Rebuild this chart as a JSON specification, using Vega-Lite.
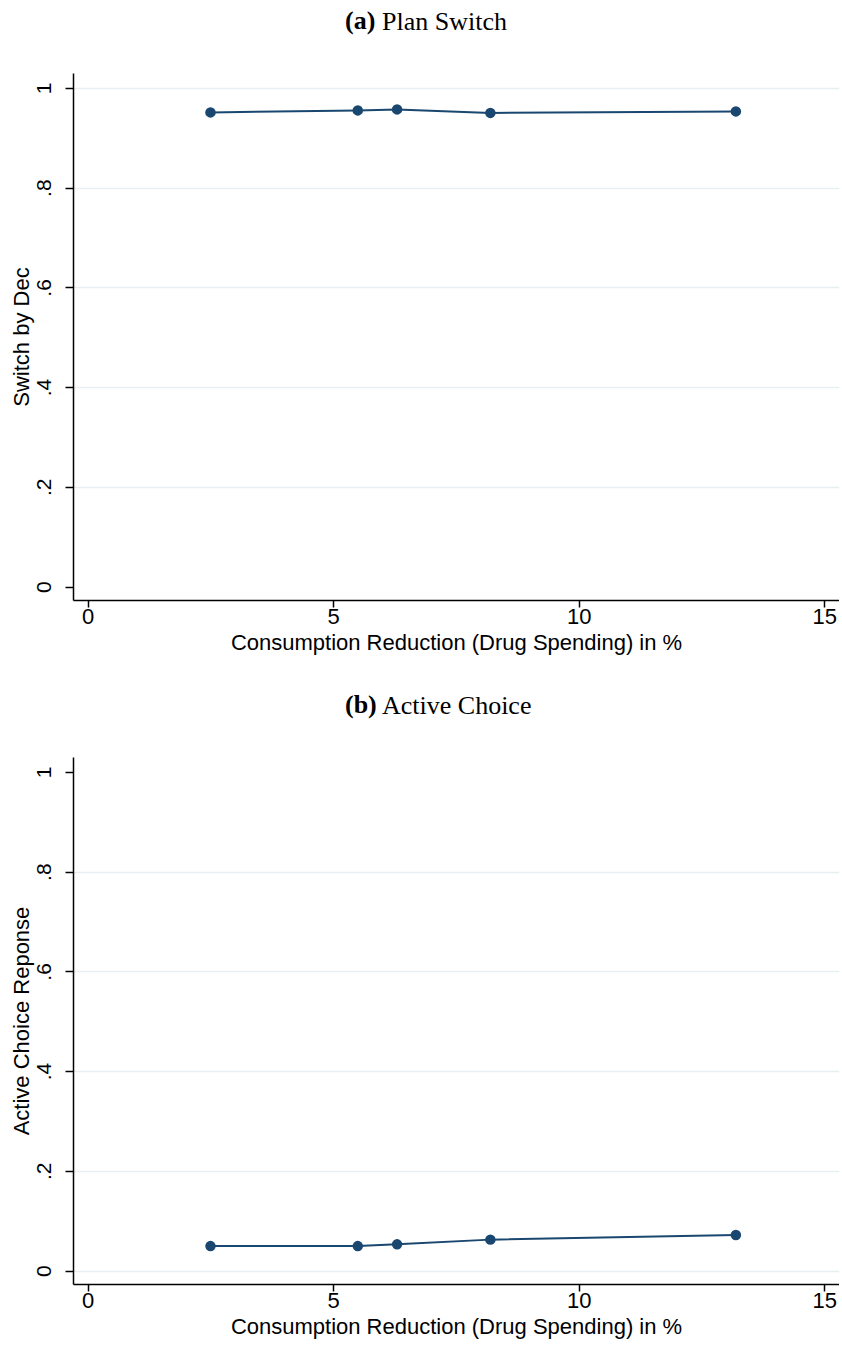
{
  "$schema": "https://vega.github.io/schema/vega-lite/v6.json",
  "padding": {"left": 10, "top": 8, "right": 0, "bottom": 8},
  "spacing": 39,
  "datasets": {
    "switch": [
      {"reduction": 2.5, "share": 0.951},
      {"reduction": 5.5, "share": 0.955},
      {"reduction": 6.3, "share": 0.957},
      {"reduction": 8.2, "share": 0.95},
      {"reduction": 13.2, "share": 0.953}
    ],
    "active": [
      {"reduction": 2.5, "share": 0.049},
      {"reduction": 5.5, "share": 0.049},
      {"reduction": 6.3, "share": 0.0525},
      {"reduction": 8.2, "share": 0.062},
      {"reduction": 13.2, "share": 0.0714}
    ]
  },
  "config": {
    "view": {"stroke": null},
    "axis": {
      "domainColor": "black",
      "domainWidth": 1.5,
      "tickColor": "black",
      "tickWidth": 1.5,
      "labelColor": "black",
      "titleColor": "black",
      "titleFontWeight": "normal",
      "gridColor": "#e6eff1",
      "gridWidth": 1.5,
      "labelFlush": false,
      "labelOverlap": false,
      "labelFont": "Liberation Sans",
      "titleFont": "Liberation Sans"
    },
    "axisX": {
      "grid": false,
      "tickSize": 7,
      "labelFontSize": 22,
      "labelPadding": -1,
      "titleFontSize": 22,
      "titlePadding": 5
    },
    "axisY": {
      "grid": true,
      "tickSize": 8,
      "labelAngle": 270,
      "labelAlign": "center",
      "labelBaseline": "alphabetic",
      "labelPadding": 15,
      "labelFontSize": 21,
      "titleFontSize": 22,
      "titlePadding": 0
    },
    "title": {
      "font": "Liberation Serif",
      "fontSize": 26,
      "color": "black",
      "baseline": "alphabetic",
      "anchor": "start",
      "frame": "group",
      "align": "left"
    }
  },
  "vconcat": [
    {
      "title": {"text": "Plan Switch", "fontWeight": "normal", "dx": 309, "offset": -27},
      "vconcat": [
        {
          "width": 766,
          "height": 527,
          "title": {"text": "(a)", "fontWeight": "bold", "dx": 272, "offset": 39},
          "data": {"name": "switch"},
          "encoding": {
            "x": {
              "field": "reduction",
              "type": "quantitative",
              "scale": {"domain": [-0.3, 15.3], "nice": false, "zero": false},
              "axis": {"values": [0, 5, 10, 15], "title": "Consumption Reduction (Drug Spending) in %"}
            },
            "y": {
              "field": "share",
              "type": "quantitative",
              "scale": {"domain": [-0.027, 1.03], "nice": false, "zero": false},
              "axis": {
                "values": [0, 0.2, 0.4, 0.6, 0.8, 1],
                "title": "Switch by Dec",
                "labelExpr": "datum.value == 0 ? '0' : datum.value == 1 ? '1' : replace(format(datum.value, '.1f'), '0.', '.')",
                "gridOpacity": {"condition": {"test": "datum.value == 0", "value": 0}, "value": 1}
              }
            }
          },
          "layer": [
            {"mark": {"type": "line", "color": "#1a476f", "strokeWidth": 2}},
            {"mark": {"type": "point", "filled": true, "color": "#1a476f", "opacity": 1, "size": 110}}
          ]
        }
      ]
    },
    {
      "title": {"text": "Active Choice", "fontWeight": "normal", "dx": 309, "offset": -27},
      "vconcat": [
        {
          "width": 766,
          "height": 527,
          "title": {"text": "(b)", "fontWeight": "bold", "dx": 272, "offset": 39},
          "data": {"name": "active"},
          "encoding": {
            "x": {
              "field": "reduction",
              "type": "quantitative",
              "scale": {"domain": [-0.3, 15.3], "nice": false, "zero": false},
              "axis": {"values": [0, 5, 10, 15], "title": "Consumption Reduction (Drug Spending) in %"}
            },
            "y": {
              "field": "share",
              "type": "quantitative",
              "scale": {"domain": [-0.027, 1.03], "nice": false, "zero": false},
              "axis": {
                "values": [0, 0.2, 0.4, 0.6, 0.8, 1],
                "title": "Active Choice Reponse",
                "labelExpr": "datum.value == 0 ? '0' : datum.value == 1 ? '1' : replace(format(datum.value, '.1f'), '0.', '.')",
                "gridOpacity": {"condition": {"test": "datum.value == 1", "value": 0}, "value": 1}
              }
            }
          },
          "layer": [
            {"mark": {"type": "line", "color": "#1a476f", "strokeWidth": 2}},
            {"mark": {"type": "point", "filled": true, "color": "#1a476f", "opacity": 1, "size": 110}}
          ]
        }
      ]
    }
  ]
}
